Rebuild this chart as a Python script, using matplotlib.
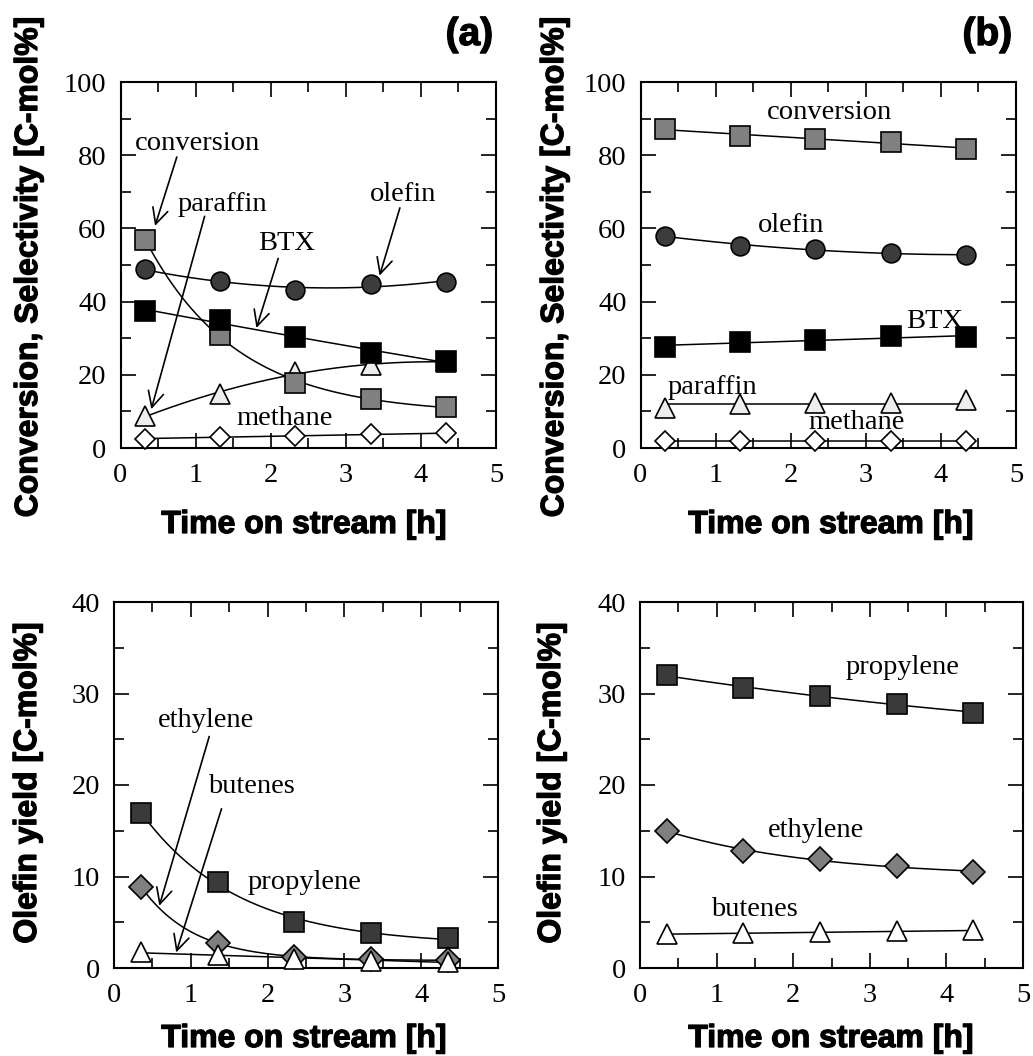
import numpy as np
import matplotlib
matplotlib.use("Agg")
import matplotlib.pyplot as plt
import matplotlib.patheffects as pe
from matplotlib.ticker import MultipleLocator

# ---------------- data ----------------
t_top = [0.33, 1.33, 2.33, 3.33, 4.33]
t_bot = [0.35, 1.35, 2.35, 3.35, 4.35]

# panel (a)
conv_a = [56.8, 30.8, 17.8, 13.4, 11.3]
olefin_a = [48.8, 45.5, 43.2, 44.9, 45.4]
btx_a = [37.4, 35.0, 30.4, 25.9, 23.8]
paraffin_a = [8.8, 14.7, 20.8, 22.7, 23.5]
methane_a = [2.5, 3.0, 3.4, 3.7, 4.0]

# panel (b)
conv_b = [87.2, 85.3, 84.4, 83.6, 81.8]
olefin_b = [58.0, 55.2, 54.3, 53.3, 52.7]
btx_b = [27.7, 28.9, 29.6, 30.5, 30.2]
paraffin_b = [10.9, 11.9, 12.2, 12.2, 13.0]
methane_b = [1.8, 2.0, 2.0, 1.9, 2.0]

# panel (c)
prop_c = [16.95, 9.43, 5.03, 3.85, 3.30]
eth_c = [8.9, 2.75, 1.15, 1.0, 0.85]
but_c = [1.7, 1.45, 1.0, 0.8, 0.7]

# panel (d)
prop_d = [32.0, 30.6, 29.7, 28.9, 27.9]
eth_d = [15.0, 12.8, 11.9, 11.1, 10.5]
but_d = [3.7, 3.8, 3.9, 4.0, 4.1]

xticks = [0, 1, 2, 3, 4, 5]
yticks_top = [0, 20, 40, 60, 80, 100]
yticks_bot = [0, 10, 20, 30, 40]

# ---------------- style ----------------
SERIF = "Liberation Serif"
SANS = "Liberation Sans"
plt.rcParams["font.family"] = [SERIF, "DejaVu Serif"]
plt.rcParams["axes.linewidth"] = 1.5

fig = plt.figure(figsize=(10.33, 10.56), dpi=100)
W, H = 1033.0, 1056.0


def axes_px(x0, x1, y0, y1):
    return fig.add_axes([x0 / W, 1 - y1 / H, (x1 - x0) / W, (y1 - y0) / H])


ax_a = axes_px(120.5, 496, 82, 448)
ax_b = axes_px(640.5, 1016, 82, 448)
ax_c = axes_px(114, 498, 602, 968)
ax_d = axes_px(640, 1023, 602, 968)


def fit_curve(t, y, kind):
    t = np.asarray(t, float)
    y = np.asarray(y, float)
    tt = np.linspace(t[0], t[-1], 200)
    if kind == "exp":
        best = None
        for k in np.linspace(0.05, 3.0, 300):
            A = np.column_stack([np.ones_like(t), np.exp(-k * t)])
            coef, *_ = np.linalg.lstsq(A, y, rcond=None)
            r = np.sum((A @ coef - y) ** 2)
            if best is None or r < best[0]:
                best = (r, k, coef)
        _, k, coef = best
        return tt, coef[0] + coef[1] * np.exp(-k * tt)
    deg = {"const": 0, "lin": 1, "quad": 2}[kind]
    p = np.polyfit(t, y, deg)
    return tt, np.polyval(p, tt)


def series(ax, t, y, kind, marker, fc, ms):
    tt, yy = fit_curve(t, y, kind)
    ax.plot(tt, yy, color="black", lw=1.1, zorder=2)
    ax.plot(t, y, linestyle="none", marker=marker, ms=ms, mfc=fc,
            mec="black", mew=1.2, zorder=3, clip_on=False)


SQ, CI, TR, DI = 14, 13.5, 14, 12

series(ax_a, t_top, methane_a, "lin", "D", "white", DI * 0.85)
series(ax_a, t_top, paraffin_a, "quad", "^", "#eeeeee", TR)
series(ax_a, t_top, conv_a, "exp", "s", "#808080", SQ)
series(ax_a, t_top, btx_a, "quad", "s", "black", SQ)
series(ax_a, t_top, olefin_a, "quad", "o", "#3c3c3c", CI)

series(ax_b, t_top, methane_b, "const", "D", "white", DI * 0.85)
series(ax_b, t_top, paraffin_b, "const", "^", "#eeeeee", TR)
series(ax_b, t_top, btx_b, "lin", "s", "black", SQ)
series(ax_b, t_top, olefin_b, "quad", "o", "#3c3c3c", CI)
series(ax_b, t_top, conv_b, "lin", "s", "#808080", SQ)

series(ax_c, t_bot, eth_c, "exp", "D", "#7f7f7f", DI)
series(ax_c, t_bot, but_c, "lin", "^", "white", TR)
series(ax_c, t_bot, prop_c, "exp", "s", "#3a3a3a", SQ)

series(ax_d, t_bot, but_d, "lin", "^", "white", TR)
series(ax_d, t_bot, eth_d, "exp", "D", "#7f7f7f", DI)
series(ax_d, t_bot, prop_d, "quad", "s", "#3a3a3a", SQ)

FS = 20.5
for ax, yt, ymax, yminor in [(ax_a, yticks_top, 100, 10), (ax_b, yticks_top, 100, 10),
                             (ax_c, yticks_bot, 40, 5), (ax_d, yticks_bot, 40, 5)]:
    ax.set_xlim(0, 5)
    ax.set_ylim(0, ymax)
    ax.set_xticks(xticks)
    ax.set_yticks(yt)
    ax.xaxis.set_minor_locator(MultipleLocator(0.5))
    ax.yaxis.set_minor_locator(MultipleLocator(yminor))
    ax.tick_params(which="both", direction="in", top=True, right=True, width=1.2)
    ax.tick_params(which="major", length=11)
    ax.tick_params(which="minor", length=7.5)
    ax.tick_params(axis="x", which="major", pad=11, labelsize=FS)
    ax.tick_params(axis="y", which="major", pad=10, labelsize=FS)
    for lab in ax.get_xticklabels() + ax.get_yticklabels():
        lab.set_fontfamily(SERIF)


def label(ax, x, y, s):
    ax.text(x, y, s, fontsize=FS, ha="center", va="center", family=SERIF, zorder=4)


def arrow(ax, tail, head):
    ax.annotate("", xy=head, xytext=tail,
                arrowprops=dict(arrowstyle="->", lw=1.2, color="black",
                                mutation_scale=28, shrinkA=0, shrinkB=0), zorder=4)


# panel (a) labels
label(ax_a, 1.02, 83.2, "conversion")
arrow(ax_a, (0.75, 79.5), (0.46, 60.7))
label(ax_a, 1.35, 66.5, "paraffin")
arrow(ax_a, (1.12, 63.3), (0.41, 10.6))
label(ax_a, 3.76, 69.3, "olefin")
arrow(ax_a, (3.72, 65.6), (3.45, 47.1))
label(ax_a, 2.21, 55.9, "BTX")
arrow(ax_a, (2.10, 51.8), (1.81, 32.8))
label(ax_a, 2.19, 8.0, "methane")

# panel (b) labels
label(ax_b, 2.52, 91.7, "conversion")
label(ax_b, 2.0, 60.7, "olefin")
label(ax_b, 3.92, 34.5, "BTX")
label(ax_b, 0.95, 16.6, "paraffin")
label(ax_b, 2.88, 6.9, "methane")

# panel (c) labels
label(ax_c, 1.20, 27.0, "ethylene")
arrow(ax_c, (1.24, 25.3), (0.59, 6.8))
label(ax_c, 1.79, 19.8, "butenes")
arrow(ax_c, (1.40, 17.4), (0.81, 1.7))
label(ax_c, 2.48, 9.36, "propylene")

# panel (d) labels
label(ax_d, 3.43, 32.8, "propylene")
label(ax_d, 2.30, 15.0, "ethylene")
label(ax_d, 1.50, 6.4, "butenes")

# axis titles (heavy sans, figure text for exact placement)
LFS = 23
HEAVY = [pe.withStroke(linewidth=0.9, foreground="black")]


def ftext(xp, yp, s, size=LFS, ha="center", **kw):
    fig.text(xp / W, 1 - yp / H, s, family=[SANS, "DejaVu Sans"], weight="bold",
             fontsize=size, ha=ha, va="center", path_effects=HEAVY, **kw)


ftext(29, 267, "Conversion, Selectivity [C-mol%]", rotation=90)
ftext(555, 267, "Conversion, Selectivity [C-mol%]", rotation=90)
ftext(28, 783, "Olefin yield [C-mol%]", rotation=90)
ftext(552, 783, "Olefin yield [C-mol%]", rotation=90)
ftext(304, 525, "Time on stream [h]")
ftext(831, 525, "Time on stream [h]")
ftext(304, 1039, "Time on stream [h]")
ftext(831, 1039, "Time on stream [h]")

ftext(493, 35, "(a)", size=28, ha="right")
ftext(1012, 35, "(b)", size=28, ha="right")

fig.savefig("out.png", dpi=100)
